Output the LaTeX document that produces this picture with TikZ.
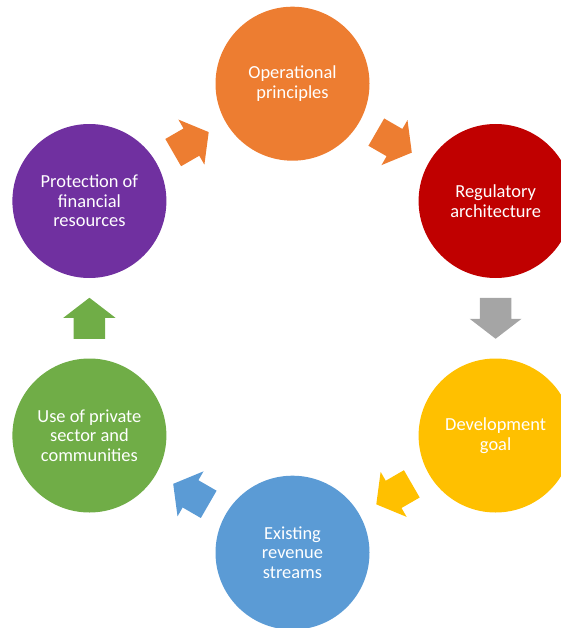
\documentclass[tikz,border=0pt]{standalone}
\usepackage{fontspec}
\setmainfont{Carlito}
\usetikzlibrary{calc}

\definecolor{cOrange}{HTML}{ED7D31}
\definecolor{cRed}{HTML}{C00000}
\definecolor{cYellow}{HTML}{FFC000}
\definecolor{cBlue}{HTML}{5B9BD5}
\definecolor{cGreen}{HTML}{70AD47}
\definecolor{cPurple}{HTML}{7030A0}
\definecolor{cGray}{HTML}{A5A5A5}

\tikzset{
  stage/.style={circle, fill=#1, draw=none, minimum size=154pt, inner sep=0pt,
    text=white, align=center, font=\fontsize{18.4}{19.6}\selectfont},
  % block arrow placed halfway between two stages, pointing along the cycle
  blockarrow/.pic={
    \fill[pic actions] (-20.5,-15.75) -- (0.5,-15.75) -- (0.5,-26) -- (20.5,0)
      -- (0.5,26) -- (0.5,15.75) -- (-20.5,15.75) -- cycle;
  }
}

\begin{document}
\begin{tikzpicture}[x=1pt, y=-1pt]
  \useasboundingbox (0,0) rectangle (561,628);
  \clip (0,0) rectangle (561,628);

  % six stages on a hexagon around (292.5,318.2)
  \node[stage=cOrange] (op)   at (292.5,83.7)  {Operational\\principles};
  \node[stage=cRed]    (reg)  at (495.6,201.0) {Regulatory\\architecture};
  \node[stage=cYellow] (dev)  at (495.6,435.5) {Development\\goal};
  \node[stage=cBlue]   (rev)  at (292.5,552.7) {Existing\\revenue\\streams};
  \node[stage=cGreen]  (use)  at (89.4,435.5)  {Use of private\\sector and\\communities};
  \node[stage=cPurple] (prot) at (89.4,201.0)  {Protection of\\financial\\resources};

  % arrows between neighbouring stages
  \pic[fill=cOrange, rotate=-30]  at ($(op)!0.5!(reg)$)   {blockarrow};
  \pic[fill=cGray,   rotate=-90]  at ($(reg)!0.5!(dev)$)  {blockarrow};
  \pic[fill=cYellow, rotate=-150] at ($(dev)!0.5!(rev)$)  {blockarrow};
  \pic[fill=cBlue,   rotate=150]  at ($(rev)!0.5!(use)$)  {blockarrow};
  \pic[fill=cGreen,  rotate=90]   at ($(use)!0.5!(prot)$) {blockarrow};
  \pic[fill=cOrange, rotate=30]   at ($(prot)!0.5!(op)$)  {blockarrow};
\end{tikzpicture}
\end{document}
